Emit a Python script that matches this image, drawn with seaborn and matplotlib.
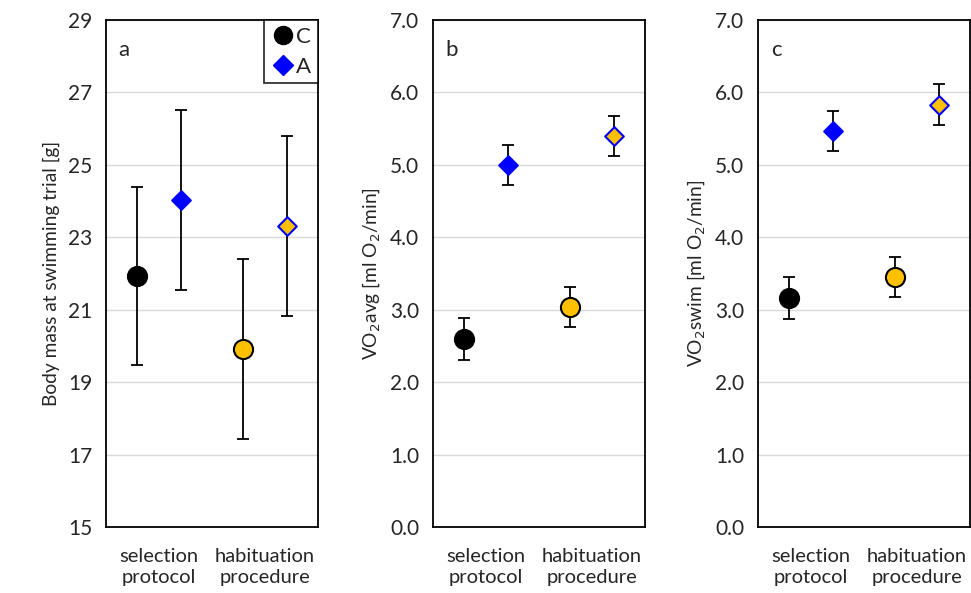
import numpy as np
import pandas as pd
import matplotlib
matplotlib.use("Agg")
import matplotlib.pyplot as plt
import seaborn as sns
from matplotlib.lines import Line2D

sns.set_theme(style="white")
plt.rcParams['font.family'] = ['Lato', 'DejaVu Sans']

categories = ["selection\nprotocol", "habituation\nprocedure"]
groups = ["C", "A"]

mass_C = [21.93, 19.91]
mass_C_err = [2.47, 2.48]
mass_A = [24.03, 23.31]
mass_A_err = [2.49, 2.49]

vavg_C = [2.60, 3.04]
vavg_C_err = [0.29, 0.28]
vavg_A = [5.00, 5.40]
vavg_A_err = [0.28, 0.28]

vswim_C = [3.16, 3.45]
vswim_C_err = [0.29, 0.28]
vswim_A = [5.47, 5.83]
vswim_A_err = [0.28, 0.28]

panels = [
    ("a", "Body mass at swimming trial [g]", (15, 29), np.arange(15, 30, 2), "{:.0f}",
     mass_C, mass_C_err, mass_A, mass_A_err),
    ("b", "VO$_2$avg [ml O$_2$/min]", (0, 7), np.arange(0, 8, 1), "{:.1f}",
     vavg_C, vavg_C_err, vavg_A, vavg_A_err),
    ("c", "VO$_2$swim [ml O$_2$/min]", (0, 7), np.arange(0, 8, 1), "{:.1f}",
     vswim_C, vswim_C_err, vswim_A, vswim_A_err),
]

fill_colors = ["black", "#FFC000"]
edge = {"C": "black", "A": "#0000FF"}
fill_A = ["#0000FF", "#FFC000"]
markers = {"C": "o", "A": "D"}
offset = {"C": -0.21, "A": 0.21}

fig = plt.figure(figsize=(9.71, 5.93), dpi=100)
lefts = [106, 433, 758]
W, H = 971, 593

for (label, ylabel, ylim, yticks, fmt, mc, mce, ma, mae), left in zip(panels, lefts):
    ax = fig.add_axes([left / W, 66 / H, 212 / W, 507 / H])
    rows = []
    for g, vals, errs in (("C", mc, mce), ("A", ma, mae)):
        for i, (v, e) in enumerate(zip(vals, errs)):
            rows.append(dict(group=g, idx=i, x=i + offset[g], y=v, err=e))
    df = pd.DataFrame(rows)
    for r in df.itertuples():
        ax.errorbar(r.x, r.y, yerr=r.err, fmt="none", ecolor="black",
                    elinewidth=1.3, capsize=4.5, capthick=1.3, zorder=2)
    for r in df.itertuples():
        if r.group == "C":
            fc = fill_colors[r.idx]
            sz = 190
        else:
            fc = fill_A[r.idx]
            sz = 90
        sns.scatterplot(x=[r.x], y=[r.y], ax=ax, marker=markers[r.group], s=sz,
                        color=fc, edgecolor=edge[r.group], linewidth=1.5,
                        zorder=3, legend=False)
    ax.set_xlim(-0.5, 1.5)
    ax.set_ylim(*ylim)
    ax.set_yticks(yticks)
    ax.set_yticklabels([fmt.format(t) for t in yticks], fontsize=15)
    ax.set_xticks([-0.5, 0.5, 1.5])
    ax.set_xticklabels([])
    ax.set_xticks([0, 1], minor=True)
    ax.set_xticklabels(categories, minor=True, fontsize=14.5, linespacing=1.3)
    ax.tick_params(axis="x", which="minor", length=0, pad=15)
    ax.tick_params(axis="x", which="major", length=6, width=1.3, color="black", direction="out")
    ax.tick_params(axis="y", length=6, width=1.3, color="black", direction="out", pad=4)
    ax.yaxis.grid(True, color="#d9d9d9", linewidth=1)
    ax.set_axisbelow(True)
    for sp in ax.spines.values():
        sp.set_color("black")
        sp.set_linewidth(1.3)
    ax.set_ylabel(ylabel, fontsize=13.8, labelpad=6)
    ax.set_xlabel("")
    ax.text(0.06, 0.96, label, transform=ax.transAxes, fontsize=16, va="top", ha="left")
    if label == "a":
        handles = [
            Line2D([], [], marker="o", color="black", linestyle="none", markersize=13),
            Line2D([], [], marker="D", color="#0000FF", linestyle="none", markersize=10),
        ]
        leg = ax.legend(handles, groups, loc="upper right", fontsize=16, frameon=True,
                        fancybox=False, edgecolor="black", borderaxespad=0,
                        handletextpad=0.05, handlelength=1.1, borderpad=0.3,
                        labelspacing=0.45)
        leg.get_frame().set_linewidth(1.3)

fig.savefig("out.png", dpi=100)
